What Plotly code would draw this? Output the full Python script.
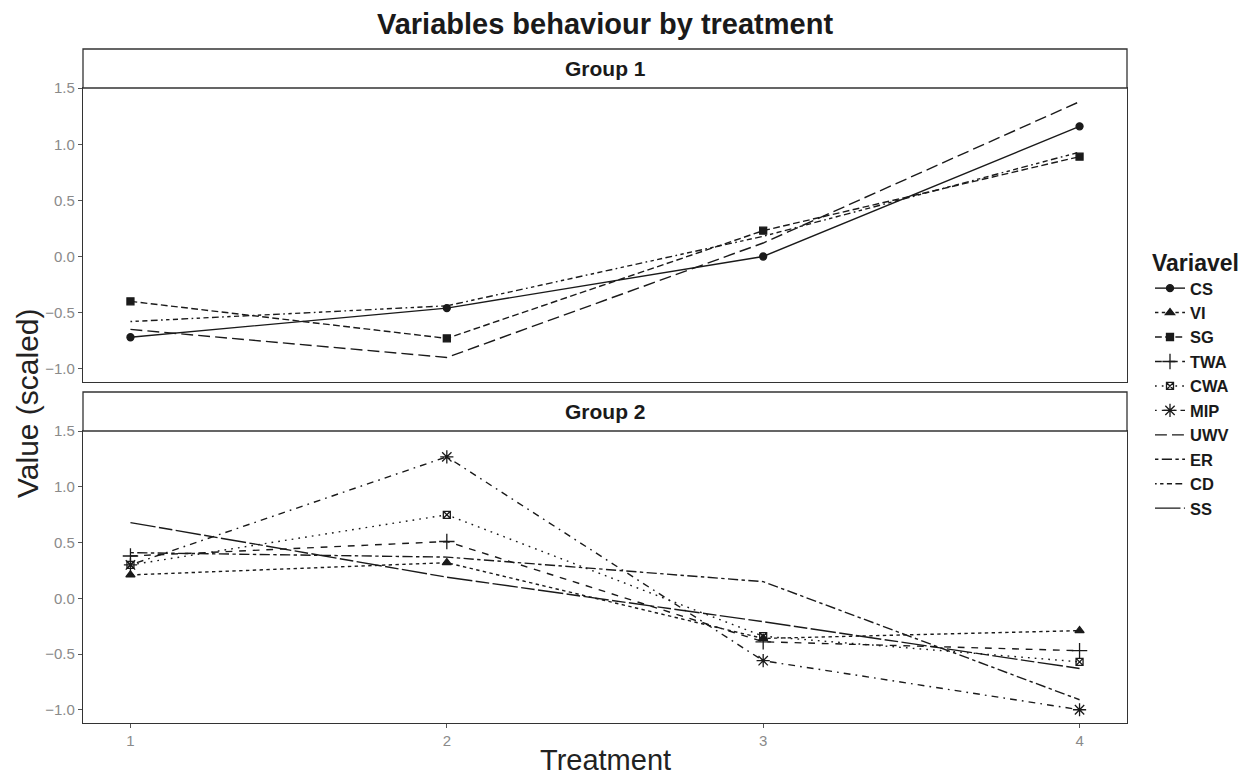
import plotly.graph_objects as go

# ---------------- data ----------------
treatment = [1, 2, 3, 4]
x_tick_labels = ["1", "2", "3", "4"]
y_tick_values = [-1.0, -0.5, 0.0, 0.5, 1.0, 1.5]
groups = ["Group 1", "Group 2"]
variables = ["CS", "VI", "SG", "TWA", "CWA", "MIP", "UWV", "ER", "CD", "SS"]

# Group 1 series
g1_cs = [-0.72, -0.46, 0.00, 1.16]
g1_sg = [-0.40, -0.73, 0.23, 0.89]
g1_uwv = [-0.65, -0.90, 0.12, 1.38]
g1_cd = [-0.58, -0.44, 0.18, 0.93]

# Group 2 series
g2_vi = [0.21, 0.32, -0.36, -0.29]
g2_twa = [0.38, 0.51, -0.39, -0.47]
g2_cwa = [0.30, 0.75, -0.34, -0.57]
g2_mip = [0.30, 1.27, -0.56, -1.00]
g2_er = [0.41, 0.37, 0.15, -0.91]
g2_ss = [0.68, 0.19, -0.21, -0.63]

series = {
    "CS": (1, g1_cs),
    "VI": (2, g2_vi),
    "SG": (1, g1_sg),
    "TWA": (2, g2_twa),
    "CWA": (2, g2_cwa),
    "MIP": (2, g2_mip),
    "UWV": (1, g1_uwv),
    "ER": (2, g2_er),
    "CD": (1, g1_cd),
    "SS": (2, g2_ss),
}

# ---------------- styles ----------------
INK = "#1a1a1a"
u = 1.7  # dash unit in px


def dash(pattern):
    return ",".join(f"{int(c, 16) * u:.1f}px" for c in pattern)


styles = {
    "CS": dict(dash="solid", symbol="circle", size=7),
    "VI": dict(dash=dash("22"), symbol="triangle-up", size=8),
    "SG": dict(dash=dash("42"), symbol="square", size=7),
    "TWA": dict(dash=dash("44"), symbol="cross-thin-open", size=11),
    "CWA": dict(dash=dash("13"), symbol="square-x-open", size=7),
    "MIP": dict(dash=dash("1343"), symbol="asterisk-open", size=11),
    "UWV": dict(dash=dash("73"), symbol=None, size=0),
    "ER": dict(dash=dash("2262"), symbol=None, size=0),
    "CD": dict(dash=dash("12223242"), symbol=None, size=0),
    "SS": dict(dash=dash("F282"), symbol=None, size=0),
}

FONT = "Liberation Sans, Arial, sans-serif"

fig = go.Figure()
for var in variables:
    grp, vals = series[var]
    st = styles[var]
    kw = dict(
        x=treatment,
        y=vals,
        name=var,
        xaxis="x" if grp == 1 else "x2",
        yaxis="y" if grp == 1 else "y2",
        line=dict(color=INK, width=1.4, dash=st["dash"]),
        mode="lines+markers" if st["symbol"] else "lines",
        hoverinfo="name+x+y",
    )
    if st["symbol"]:
        kw["marker"] = dict(
            symbol=st["symbol"], size=st["size"], color=INK,
            line=dict(color=INK, width=1.3),
        )
    fig.add_trace(go.Scatter(**kw))

# scales: ggplot-like 5% expansion, shared across facets
all_vals = [v for _, vals in series.values() for v in vals]
ymin, ymax = min(all_vals), max(all_vals)
ypad = 0.05 * (ymax - ymin)
xpad = 0.05 * (max(treatment) - min(treatment))
xr = [min(treatment) - xpad, max(treatment) + xpad]
yr = [ymin - ypad, ymax + ypad + 0.003]

# layout geometry (pixels)
W, H = 1254, 778
L, R, T, B = 83, 127, 88, 55
plot_h = H - T - B
p1_bottom_px = 382
p2_top_px = 431
strip_h = 39
d1 = [(H - B - p1_bottom_px) / plot_h, 1.0]
d2 = [0.0, (H - B - p2_top_px) / plot_h]
strip_frac = strip_h / plot_h

axis_common = dict(
    range=xr, showgrid=False, zeroline=False, showline=True, mirror=True,
    linecolor="#333333", linewidth=1.3,
)
yaxis_common = dict(
    range=yr, showgrid=False, zeroline=False, showline=True, mirror=True,
    linecolor="#333333", linewidth=1.3, tickvals=y_tick_values,
    tickformat=".1f", ticks="outside", ticklen=4, tickcolor="#555555",
    tickfont=dict(family=FONT, size=15, color="#8a8a8a"),
)

fig.update_layout(
    width=W, height=H,
    margin=dict(l=L, r=R, t=T, b=B),
    paper_bgcolor="white", plot_bgcolor="white",
    font=dict(family=FONT, color=INK),
    title=dict(
        text="<b>Variables behaviour by treatment</b>",
        x=0.5, xref="paper", y=1 - 24 / H, yanchor="middle",
        font=dict(family=FONT, size=29, color=INK),
    ),
    xaxis=dict(axis_common, domain=[0, 1], anchor="y", showticklabels=False,
               ticks="", tickvals=treatment),
    yaxis=dict(yaxis_common, domain=d1, anchor="x"),
    xaxis2=dict(axis_common, domain=[0, 1], anchor="y2", tickvals=treatment,
                ticktext=x_tick_labels, ticks="outside", ticklen=4,
                tickcolor="#555555",
                tickfont=dict(family=FONT, size=15, color="#8a8a8a")),
    yaxis2=dict(yaxis_common, domain=d2, anchor="x2"),
    legend=dict(
        title=dict(text="<b>Variavel</b>", font=dict(family=FONT, size=23, color=INK)),
        font=dict(family=FONT, size=16.5, color=INK, weight="bold"),
        x=(1150 - L) / (W - L - R), xanchor="left",
        y=(H - B - 241) / plot_h, yanchor="top",
        bgcolor="rgba(0,0,0,0)", borderwidth=0, traceorder="normal",
        itemwidth=30,
    ),
    showlegend=True,
)

# strips
strips = [(d1[1], groups[0]), (d2[1], groups[1])]
for y0, label in strips:
    fig.add_shape(type="rect", xref="paper", yref="paper", x0=0, x1=1,
                  y0=y0, y1=y0 + strip_frac, fillcolor="white",
                  line=dict(color="#333333", width=1.3), layer="above")
    fig.add_annotation(text=f"<b>{label}</b>", xref="paper", yref="paper",
                       x=0.5, y=y0 + strip_frac / 2, showarrow=False,
                       xanchor="center", yanchor="middle",
                       font=dict(family=FONT, size=21, color=INK))

# axis titles
fig.add_annotation(text="Value (scaled)", xref="paper", yref="paper",
                   x=(27 - L) / (W - L - R), y=(H - B - 403) / plot_h,
                   textangle=-90, showarrow=False, xanchor="center",
                   yanchor="middle", font=dict(family=FONT, size=30, color="#222222"))
fig.add_annotation(text="Treatment", xref="paper", yref="paper",
                   x=0.5, y=(H - B - 760) / plot_h, showarrow=False,
                   xanchor="center", yanchor="middle",
                   font=dict(family=FONT, size=29, color="#222222"))

fig.write_html(
    "out.html",
    config={"displayModeBar": False},
    post_script="document.body.style.margin='0';document.body.style.padding='0';",
)
